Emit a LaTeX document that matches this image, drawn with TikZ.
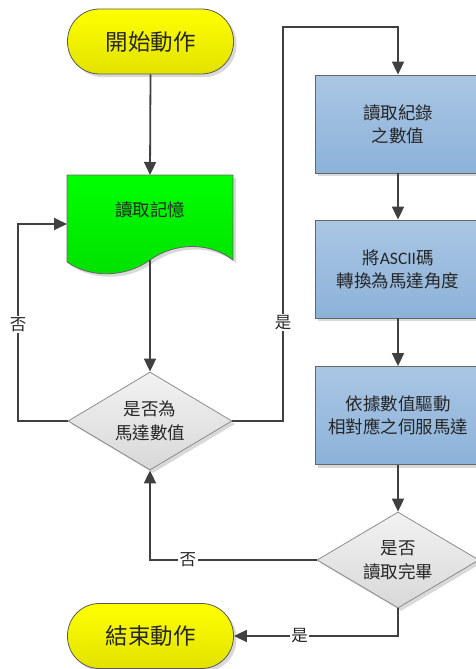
\documentclass[tikz,border=0pt]{standalone}
\usepackage{fontspec}
\setmainfont{Carlito}
\newfontfamily\cjk{Noto Sans CJK TC}
\newfontfamily\latf{Carlito}
\usetikzlibrary{arrows.meta,shapes.geometric,shadows}
\definecolor{lineC}{HTML}{404040}
\definecolor{yelT}{HTML}{FFFF00}
\definecolor{yelB}{HTML}{E2E200}
\definecolor{grnT}{HTML}{00FF00}
\definecolor{grnB}{HTML}{00E000}
\definecolor{bluT}{HTML}{AAC6E4}
\definecolor{bluB}{HTML}{8CB2D9}
\definecolor{dmdT}{HTML}{F2F2F2}
\definecolor{dmdB}{HTML}{D8D8D8}
\definecolor{txtC}{HTML}{262626}
\begin{document}
\begin{tikzpicture}[x=1pt,y=-1pt,
  shade/.style={drop shadow={shadow xshift=3pt,shadow yshift=-3pt,opacity=0.25,fill=black!60}},
  conn/.style={draw=lineC,line width=1.8pt,-{Triangle[length=13pt,width=12pt]}},
  term/.style={rectangle,rounded corners=32pt,minimum width=166pt,minimum height=65pt,
    draw=black!65,line width=0.8pt,top color=yelT,bottom color=yelB,shade,
    text=txtC,font=\cjk\fontsize{22.5}{26}\selectfont},
  proc/.style={rectangle,minimum width=166pt,minimum height=98pt,draw=black!60,line width=0.8pt,
    top color=bluT,bottom color=bluB,shade,align=center,text=txtC,
    font=\cjk\fontsize{17.5}{23}\selectfont},
  dec/.style={diamond,aspect=1.67,inner sep=0pt,minimum width=164pt,minimum height=98pt,
    draw=black!45,line width=0.8pt,top color=dmdT,bottom color=dmdB,shade,align=center,
    text=txtC,font=\cjk\fontsize{17.5}{24.5}\selectfont},
  lab/.style={fill=white,inner sep=1.5pt,text=txtC,font=\cjk\fontsize{16.5}{19}\selectfont},
  txt/.style={text=txtC,font=\cjk\fontsize{17.5}{23}\selectfont}
]
\useasboundingbox (0,0) rectangle (475,669);

% start
\node[term] (start) at (150.5,41.5) {開始動作};

% document shape
\path[draw=black!60,line width=0.8pt,top color=grnT,bottom color=grnB,shade]
  (67,175) -- (233,175) -- (233,260)
  .. controls (210,242) and (175,242) .. (150,260)
  .. controls (125,278) and (90,278) .. (67,262) -- cycle;
\node[txt] (doc) at (150,210) {讀取記憶};
\coordinate (docT) at (150,175);
\coordinate (docB) at (150,260);
\coordinate (docL) at (67,224);

% decision 1
\node[dec] (d1) at (150,421) {是否為\\馬達數值};

% process boxes
\node[proc] (p1) at (398,124) {讀取紀錄\\之數值};
\node[proc] (p2) at (398,269) {將{\latf ASCII}碼\\轉換為馬達角度};
\node[proc] (p3) at (398,415.5) {依據數值驅動\\相對應之伺服馬達};

% decision 2
\node[dec,minimum width=162pt,minimum height=96pt] (d2) at (398,560) {是否\\讀取完畢};

% end
\node[term] (end) at (150.5,636) {結束動作};

% connectors
\coordinate (l1) at (18,421);
\coordinate (l2) at (18,224);
\coordinate (r1) at (283,421);
\coordinate (r2) at (283,27);
\coordinate (r3) at (398,27);

\draw[conn] (start.south) -- (docT);
\draw[conn] (docB) -- (d1.north);
\draw[conn] (d1.west) -- (l1) -- node[lab,pos=0.49]{否} (l2) -- (docL);
\draw[conn] (d1.east) -- (r1) -- node[lab,pos=0.25]{是} (r2) -- (r3) -- (p1.north);
\draw[conn] (p1.south) -- (p2.north);
\draw[conn] (p2.south) -- (p3.north);
\draw[conn] (p3.south) -- (d2.north);
\draw[conn] (d2.west) -| node[lab,pos=0.386]{否} (d1.south);
\draw[conn] (d2.south) |- node[lab,pos=0.8]{是} (end.east);
\end{tikzpicture}
\end{document}
